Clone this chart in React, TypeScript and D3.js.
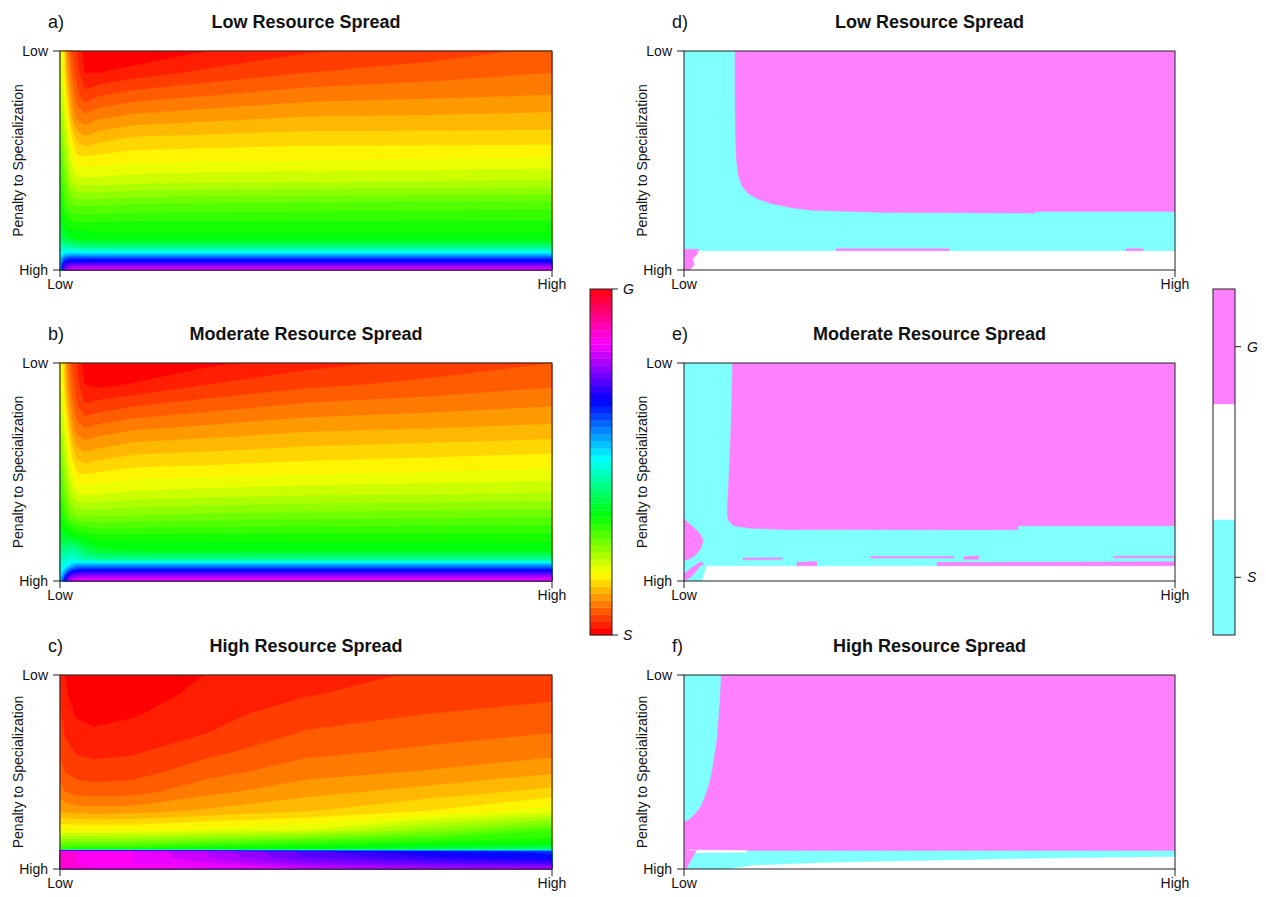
import React from "react";
import * as d3 from "d3";

// ---------------- DATA ----------------
const panelLetters = ["a)", "b)", "c)", "d)", "e)", "f)"];
const panelTitles = ["Low Resource Spread", "Moderate Resource Spread", "High Resource Spread"];
const axisTickLabels = ["Low", "High"];
const yAxisTitle = "Penalty to Specialization";
const keyLabelsContinuous = ["S", "G"];
const keyLabelsClasses = ["G", "", "S"];
const nLevels = 50; // number of filled-contour levels between S (0) and G (1)

// sample positions of the read-off field (x: resource, 0 = Low .. 1 = High)
const fieldXsAB = [0, 0.008, 0.014, 0.024, 0.034, 0.05, 0.08, 0.15, 0.3, 0.5, 0.75, 1.0];
const fieldXsC = [0, 0.01, 0.034, 0.07, 0.15, 0.3, 0.5, 0.75, 1.0];
// y: penalty to specialization, 0 = Low (top) .. 1 = High (bottom)
const fieldYsAB = [0, 0.1, 0.2, 0.3, 0.4, 0.5, 0.6, 0.7, 0.8, 0.86, 0.9, 0.93, 0.95, 0.97, 0.985, 1.0];
const fieldYsC = [0, 0.1, 0.2, 0.3, 0.4, 0.5, 0.6, 0.7, 0.8, 0.86, 0.9, 0.91, 0.94, 0.97, 1.0];

// a) Low resource spread: one column of values (0 = S .. 1 = G) per fieldXsAB entry
const fieldA = [
  [0.2, 0.21, 0.225, 0.245, 0.27, 0.295, 0.32, 0.345, 0.38, 0.41, 0.46, 0.5, 0.53, 0.55, 0.56, 0.57],
  [0.16, 0.17, 0.19, 0.21, 0.235, 0.26, 0.285, 0.31, 0.35, 0.39, 0.46, 0.54, 0.62, 0.68, 0.72, 0.75],
  [0.1, 0.12, 0.15, 0.18, 0.205, 0.23, 0.255, 0.29, 0.34, 0.38, 0.46, 0.55, 0.64, 0.71, 0.76, 0.8],
  [0.06, 0.075, 0.095, 0.12, 0.16, 0.19, 0.225, 0.28, 0.33, 0.37, 0.45, 0.56, 0.65, 0.72, 0.78, 0.83],
  [0.04, 0.05, 0.068, 0.095, 0.135, 0.17, 0.21, 0.275, 0.33, 0.36, 0.45, 0.56, 0.65, 0.72, 0.78, 0.84],
  [0.01, 0.02, 0.046, 0.085, 0.125, 0.168, 0.21, 0.275, 0.33, 0.36, 0.44, 0.55, 0.65, 0.72, 0.78, 0.84],
  [0.0, 0.02, 0.058, 0.095, 0.133, 0.17, 0.21, 0.275, 0.33, 0.35, 0.44, 0.55, 0.65, 0.72, 0.78, 0.84],
  [0.0, 0.03, 0.068, 0.105, 0.143, 0.175, 0.215, 0.28, 0.33, 0.35, 0.44, 0.55, 0.65, 0.72, 0.78, 0.84],
  [0.02, 0.045, 0.078, 0.112, 0.146, 0.178, 0.218, 0.283, 0.33, 0.35, 0.44, 0.55, 0.65, 0.72, 0.78, 0.84],
  [0.037, 0.06, 0.09, 0.12, 0.15, 0.18, 0.22, 0.285, 0.33, 0.35, 0.44, 0.55, 0.65, 0.72, 0.78, 0.84],
  [0.05, 0.07, 0.095, 0.122, 0.15, 0.182, 0.222, 0.288, 0.33, 0.35, 0.44, 0.55, 0.65, 0.72, 0.78, 0.84],
  [0.065, 0.08, 0.1, 0.125, 0.15, 0.185, 0.225, 0.29, 0.33, 0.35, 0.44, 0.55, 0.65, 0.72, 0.78, 0.84],
];

// b) Moderate resource spread
const fieldB = [
  [0.19, 0.2, 0.215, 0.235, 0.26, 0.285, 0.31, 0.34, 0.38, 0.42, 0.45, 0.48, 0.5, 0.52, 0.53, 0.54],
  [0.15, 0.16, 0.18, 0.2, 0.225, 0.25, 0.275, 0.31, 0.37, 0.43, 0.47, 0.5, 0.53, 0.58, 0.62, 0.66],
  [0.1, 0.115, 0.14, 0.17, 0.195, 0.22, 0.25, 0.29, 0.37, 0.44, 0.48, 0.52, 0.58, 0.66, 0.72, 0.76],
  [0.06, 0.07, 0.09, 0.115, 0.15, 0.18, 0.215, 0.27, 0.36, 0.45, 0.48, 0.55, 0.64, 0.72, 0.78, 0.82],
  [0.04, 0.048, 0.064, 0.09, 0.125, 0.16, 0.2, 0.26, 0.35, 0.44, 0.47, 0.58, 0.66, 0.74, 0.8, 0.84],
  [0.01, 0.02, 0.044, 0.08, 0.117, 0.155, 0.195, 0.255, 0.34, 0.4, 0.45, 0.58, 0.67, 0.75, 0.8, 0.85],
  [0.0, 0.015, 0.05, 0.087, 0.123, 0.16, 0.198, 0.255, 0.33, 0.37, 0.44, 0.58, 0.67, 0.75, 0.8, 0.85],
  [0.0, 0.022, 0.06, 0.097, 0.133, 0.167, 0.205, 0.26, 0.33, 0.36, 0.44, 0.58, 0.67, 0.75, 0.8, 0.85],
  [0.015, 0.04, 0.072, 0.105, 0.138, 0.17, 0.21, 0.265, 0.33, 0.36, 0.44, 0.58, 0.67, 0.75, 0.8, 0.85],
  [0.032, 0.055, 0.085, 0.115, 0.145, 0.175, 0.215, 0.27, 0.33, 0.355, 0.44, 0.58, 0.67, 0.75, 0.8, 0.85],
  [0.046, 0.066, 0.092, 0.12, 0.15, 0.18, 0.218, 0.272, 0.33, 0.355, 0.44, 0.58, 0.67, 0.75, 0.8, 0.85],
  [0.06, 0.077, 0.1, 0.125, 0.155, 0.185, 0.222, 0.275, 0.33, 0.355, 0.44, 0.58, 0.67, 0.75, 0.8, 0.85],
];

// c) High resource spread (columns: fieldXsC, rows: fieldYsC)
const fieldC = [
  [0.035, 0.038, 0.043, 0.05, 0.058, 0.07, 0.088, 0.12, 0.18, 0.26, 0.32, 0.88, 0.88, 0.88, 0.88],
  [0.02, 0.024, 0.03, 0.038, 0.048, 0.06, 0.08, 0.115, 0.18, 0.26, 0.32, 0.87, 0.87, 0.87, 0.87],
  [0.0, 0.008, 0.017, 0.028, 0.038, 0.052, 0.072, 0.11, 0.18, 0.26, 0.33, 0.86, 0.86, 0.86, 0.86],
  [0.0, 0.004, 0.012, 0.024, 0.035, 0.049, 0.07, 0.108, 0.18, 0.26, 0.33, 0.85, 0.85, 0.85, 0.86],
  [0.0, 0.009, 0.018, 0.028, 0.038, 0.052, 0.072, 0.11, 0.18, 0.265, 0.33, 0.84, 0.84, 0.84, 0.85],
  [0.021, 0.027, 0.033, 0.04, 0.055, 0.072, 0.094, 0.123, 0.19, 0.28, 0.35, 0.8, 0.8, 0.82, 0.84],
  [0.034, 0.0385, 0.05, 0.062, 0.075, 0.092, 0.112, 0.138, 0.2, 0.3, 0.36, 0.73, 0.74, 0.77, 0.82],
  [0.042, 0.051, 0.06, 0.072, 0.085, 0.102, 0.128, 0.16, 0.25, 0.32, 0.39, 0.68, 0.7, 0.74, 0.8],
  [0.05, 0.055, 0.068, 0.08, 0.094, 0.117, 0.146, 0.19, 0.3, 0.33, 0.42, 0.65, 0.67, 0.72, 0.8],
];

// Right panels: outcome regions, points as [resource (0..1), penalty (0 = Low .. 1 = High)]
// d) Low resource spread
const dCyan = [[0, 0], [1, 0], [1, 0.912], [0, 0.912]];
const dPink = [[0.104, 0], [0.104, 0.2], [0.105, 0.4], [0.107, 0.5], [0.111, 0.57], [0.118, 0.615], [0.13, 0.65], [0.15, 0.675], [0.18, 0.698], [0.22, 0.716], [0.26, 0.727], [0.41, 0.737], [0.715, 0.74], [0.715, 0.733], [1, 0.733], [1, 0]];
const dPinkBits = [
  [[0.31, 0.903], [0.54, 0.903], [0.54, 0.912], [0.31, 0.912]],
  [[0.9, 0.903], [0.935, 0.903], [0.935, 0.912], [0.9, 0.912]],
  [[0, 0.905], [0.03, 0.905], [0.026, 0.93], [0.017, 0.95], [0.021, 0.975], [0.012, 1], [0, 1]],
];
// e) Moderate resource spread
const eCyan = [[0, 0], [1, 0], [1, 0.93], [0.045, 0.93], [0.036, 1], [0, 1]];
const ePink = [[0.099, 0], [0.097, 0.2], [0.094, 0.4], [0.09, 0.6], [0.088, 0.68], [0.09, 0.72], [0.1, 0.745], [0.13, 0.757], [0.2, 0.764], [0.68, 0.765], [0.68, 0.747], [1, 0.747], [1, 0]];
const ePinkBits = [
  [[0, 0.717], [0.016, 0.747], [0.033, 0.785], [0.039, 0.815], [0.034, 0.852], [0.022, 0.883], [0.009, 0.901], [0, 0.905]],
  [[0, 1], [0.016, 0.978], [0.033, 0.931], [0.041, 0.922], [0.033, 0.913], [0.012, 0.945], [0, 0.968]],
  [[0.515, 0.915], [1, 0.912], [1, 0.93], [0.515, 0.93]],
  [[0.12, 0.895], [0.2, 0.893], [0.2, 0.9], [0.12, 0.902]],
  [[0.23, 0.915], [0.27, 0.91], [0.27, 0.93], [0.23, 0.93]],
  [[0.57, 0.888], [0.6, 0.885], [0.6, 0.9], [0.57, 0.9]],
  [[0.875, 0.886], [1, 0.886], [1, 0.893], [0.875, 0.893]],
  [[0.38, 0.888], [0.55, 0.888], [0.55, 0.894], [0.38, 0.894]],
];
// f) High resource spread
const fCyanBottom = [[0, 0.9], [1, 0.9], [1, 0.935], [0.85, 0.94], [0.7, 0.945], [0.5, 0.955], [0.3, 0.965], [0.14, 0.98], [0.087, 1], [0, 1]];
const fPink = [[0, 0], [1, 0], [1, 0.905], [0, 0.905]];
const fCyanTop = [[0, 0], [0.075, 0], [0.072, 0.15], [0.067, 0.32], [0.06, 0.44], [0.053, 0.54], [0.043, 0.62], [0.033, 0.68], [0.02, 0.72], [0.01, 0.745], [0, 0.755]];
const fWhiteStrip = [[0.006, 0.902], [0.128, 0.905], [0.128, 0.914], [0.006, 0.916]];
const fPinkCorner = [[0, 0.905], [0.025, 0.905], [0.004, 1], [0, 1]];

// ---------------- STYLE / LAYOUT ----------------
const FONT = "'Liberation Sans', Arial, Helvetica, sans-serif";
const CYAN = "#80FFFF";
const PINK = "#FF80FF";
const WHITE = "#FFFFFF";
const FRAME = "#222";
const leftPlotX = [60, 552];
const rightPlotX = [684, 1175];
const rowPlotY = [[51, 270], [363, 581], [675, 869]];
const leftKey = { x: 590, w: 22, y0: 289, y1: 635 };
const rightKey = { x: 1213, w: 22, y0: 289, y1: 635 };

const levelColor = (k: number) => d3.hsl((k / nLevels) * 360, 1, 0.5).formatHex();

function mapGrid(g: number, pos: number[]) {
  const n = pos.length;
  const k = g - 0.5;
  if (k <= 0) return pos[0];
  if (k >= n - 1) return pos[n - 1];
  const i = Math.floor(k);
  const t = k - i;
  return pos[i] + t * (pos[i + 1] - pos[i]);
}

function Axes({ x0, x1, y0, y1 }: any) {
  return (
    <g fontFamily={FONT} fontSize={14} fill="#111">
      <rect x={x0} y={y0} width={x1 - x0} height={y1 - y0} fill="none" stroke={FRAME} strokeWidth={1} />
      {[y0, y1].map((y, i) => (
        <g key={"y" + i}>
          <line x1={x0 - 7} x2={x0} y1={y} y2={y} stroke={FRAME} />
          <text x={x0 - 12} y={y} dy="0.35em" textAnchor="end">{axisTickLabels[i]}</text>
        </g>
      ))}
      {[x0, x1].map((x, i) => (
        <g key={"x" + i}>
          <line x1={x} x2={x} y1={y1} y2={y1 + 7} stroke={FRAME} />
          <text x={x} y={y1 + 19} textAnchor="middle">{axisTickLabels[i]}</text>
        </g>
      ))}
      <text transform={`translate(${x0 - 42},${(y0 + y1) / 2}) rotate(-90)`} dy="0.35em" textAnchor="middle">{yAxisTitle}</text>
    </g>
  );
}

function Title({ letter, title, x0, x1, y0 }: any) {
  return (
    <g fontFamily={FONT} fill="#111">
      <text x={x0 - 12} y={y0 - 23} fontSize={18}>{letter}</text>
      <text x={(x0 + x1) / 2} y={y0 - 23} fontSize={18} fontWeight="bold" textAnchor="middle">{title}</text>
    </g>
  );
}

function ContourPanel({ xs, ys, cols, x0, x1, y0, y1 }: any) {
  const nx = xs.length, ny = ys.length;
  const values: number[] = [];
  for (let j = 0; j < ny; j++) for (let i = 0; i < nx; i++) values.push(cols[i][j]);
  const thresholds = d3.range(nLevels).map((k) => k / nLevels);
  const contours = d3.contours().size([nx, ny]).thresholds(thresholds)(values);
  const sx = d3.scaleLinear().domain([0, 1]).range([x0, x1]);
  const sy = d3.scaleLinear().domain([0, 1]).range([y0, y1]);
  const toPath = (mp: any) =>
    mp.coordinates
      .map((poly: any) =>
        poly
          .map((ring: any) =>
            "M" + ring.map(([gx, gy]: number[]) => `${sx(mapGrid(gx, xs)).toFixed(2)},${sy(mapGrid(gy, ys)).toFixed(2)}`).join("L") + "Z"
          )
          .join("")
      )
      .join("");
  return (
    <g>
      {contours.map((c: any, k: number) => (
        <path key={k} d={toPath(c)} fill={levelColor(k)} fillRule="evenodd" stroke={levelColor(k)} strokeWidth={0.3} />
      ))}
    </g>
  );
}

function RegionPanel({ layers, x0, x1, y0, y1 }: any) {
  const sx = d3.scaleLinear().domain([0, 1]).range([x0, x1]);
  const sy = d3.scaleLinear().domain([0, 1]).range([y0, y1]);
  const line = d3.line<number[]>().x((d) => sx(d[0])).y((d) => sy(d[1]));
  const id = `clip${x0}_${y0}`;
  return (
    <g>
      <clipPath id={id}><rect x={x0} y={y0} width={x1 - x0} height={y1 - y0} /></clipPath>
      <g clipPath={`url(#${id})`}>
        <rect x={x0} y={y0} width={x1 - x0} height={y1 - y0} fill={WHITE} />
        {layers.map((l: any, i: number) => (
          <path key={i} d={line(l.pts) + "Z"} fill={l.fill} stroke={l.fill} strokeWidth={0.5} />
        ))}
      </g>
    </g>
  );
}

export default function App() {
  const fields = [
    { xs: fieldXsAB, ys: fieldYsAB, cols: fieldA },
    { xs: fieldXsAB, ys: fieldYsAB, cols: fieldB },
    { xs: fieldXsC, ys: fieldYsC, cols: fieldC },
  ];
  const regionLayers = [
    [{ pts: dCyan, fill: CYAN }, { pts: dPink, fill: PINK }, ...dPinkBits.map((p) => ({ pts: p, fill: PINK }))],
    [{ pts: eCyan, fill: CYAN }, { pts: ePink, fill: PINK }, ...ePinkBits.map((p) => ({ pts: p, fill: PINK }))],
    [
      { pts: fCyanBottom, fill: CYAN },
      { pts: fPink, fill: PINK },
      { pts: fCyanTop, fill: CYAN },
      { pts: fWhiteStrip, fill: WHITE },
      { pts: fPinkCorner, fill: PINK },
    ],
  ];
  const keyScale = d3.scaleLinear().domain([0, 1]).range([leftKey.y1, leftKey.y0]);
  const classScale = d3.scaleBand().domain(["0", "1", "2"]).range([rightKey.y0, rightKey.y1]);
  const classFills = [PINK, WHITE, CYAN];

  return (
    <svg width={1266} height={897} style={{ position: "absolute", left: 0, top: 0, background: "#fff" }}>
      <rect width={1266} height={897} fill="#fff" />
      {fields.map((f, r) => {
        const [y0, y1] = rowPlotY[r];
        const [x0, x1] = leftPlotX;
        return (
          <g key={"L" + r}>
            <ContourPanel {...f} x0={x0} x1={x1} y0={y0} y1={y1} />
            <Axes x0={x0} x1={x1} y0={y0} y1={y1} />
            <Title letter={panelLetters[r]} title={panelTitles[r]} x0={x0} x1={x1} y0={y0} />
          </g>
        );
      })}
      {regionLayers.map((layers, r) => {
        const [y0, y1] = rowPlotY[r];
        const [x0, x1] = rightPlotX;
        return (
          <g key={"R" + r}>
            <RegionPanel layers={layers} x0={x0} x1={x1} y0={y0} y1={y1} />
            <Axes x0={x0} x1={x1} y0={y0} y1={y1} />
            <Title letter={panelLetters[r + 3]} title={panelTitles[r]} x0={x0} x1={x1} y0={y0} />
          </g>
        );
      })}
      <g>
        {d3.range(nLevels).map((k) => (
          <rect key={k} x={leftKey.x} width={leftKey.w} y={keyScale((k + 1) / nLevels)} height={keyScale(k / nLevels) - keyScale((k + 1) / nLevels) + 0.3} fill={levelColor(k)} />
        ))}
        <rect x={leftKey.x} y={leftKey.y0} width={leftKey.w} height={leftKey.y1 - leftKey.y0} fill="none" stroke={FRAME} />
        {[0, 1].map((v, i) => (
          <g key={i}>
            <line x1={leftKey.x + leftKey.w} x2={leftKey.x + leftKey.w + 6} y1={keyScale(v)} y2={keyScale(v)} stroke={FRAME} />
            <text x={leftKey.x + leftKey.w + 11} y={keyScale(v)} dy="0.35em" fontFamily={FONT} fontSize={14} fontStyle="italic" fill="#111">{keyLabelsContinuous[i]}</text>
          </g>
        ))}
      </g>
      <g>
        {["0", "1", "2"].map((c, i) => (
          <rect key={c} x={rightKey.x} width={rightKey.w} y={classScale(c)!} height={classScale.bandwidth()} fill={classFills[i]} />
        ))}
        <rect x={rightKey.x} y={rightKey.y0} width={rightKey.w} height={rightKey.y1 - rightKey.y0} fill="none" stroke={FRAME} />
        {["0", "2"].map((c) => {
          const y = classScale(c)! + classScale.bandwidth() / 2;
          return (
            <g key={c}>
              <line x1={rightKey.x + rightKey.w} x2={rightKey.x + rightKey.w + 6} y1={y} y2={y} stroke={FRAME} />
              <text x={rightKey.x + rightKey.w + 12} y={y} dy="0.35em" fontFamily={FONT} fontSize={14} fontStyle="italic" fill="#111">{keyLabelsClasses[+c]}</text>
            </g>
          );
        })}
      </g>
    </svg>
  );
}
